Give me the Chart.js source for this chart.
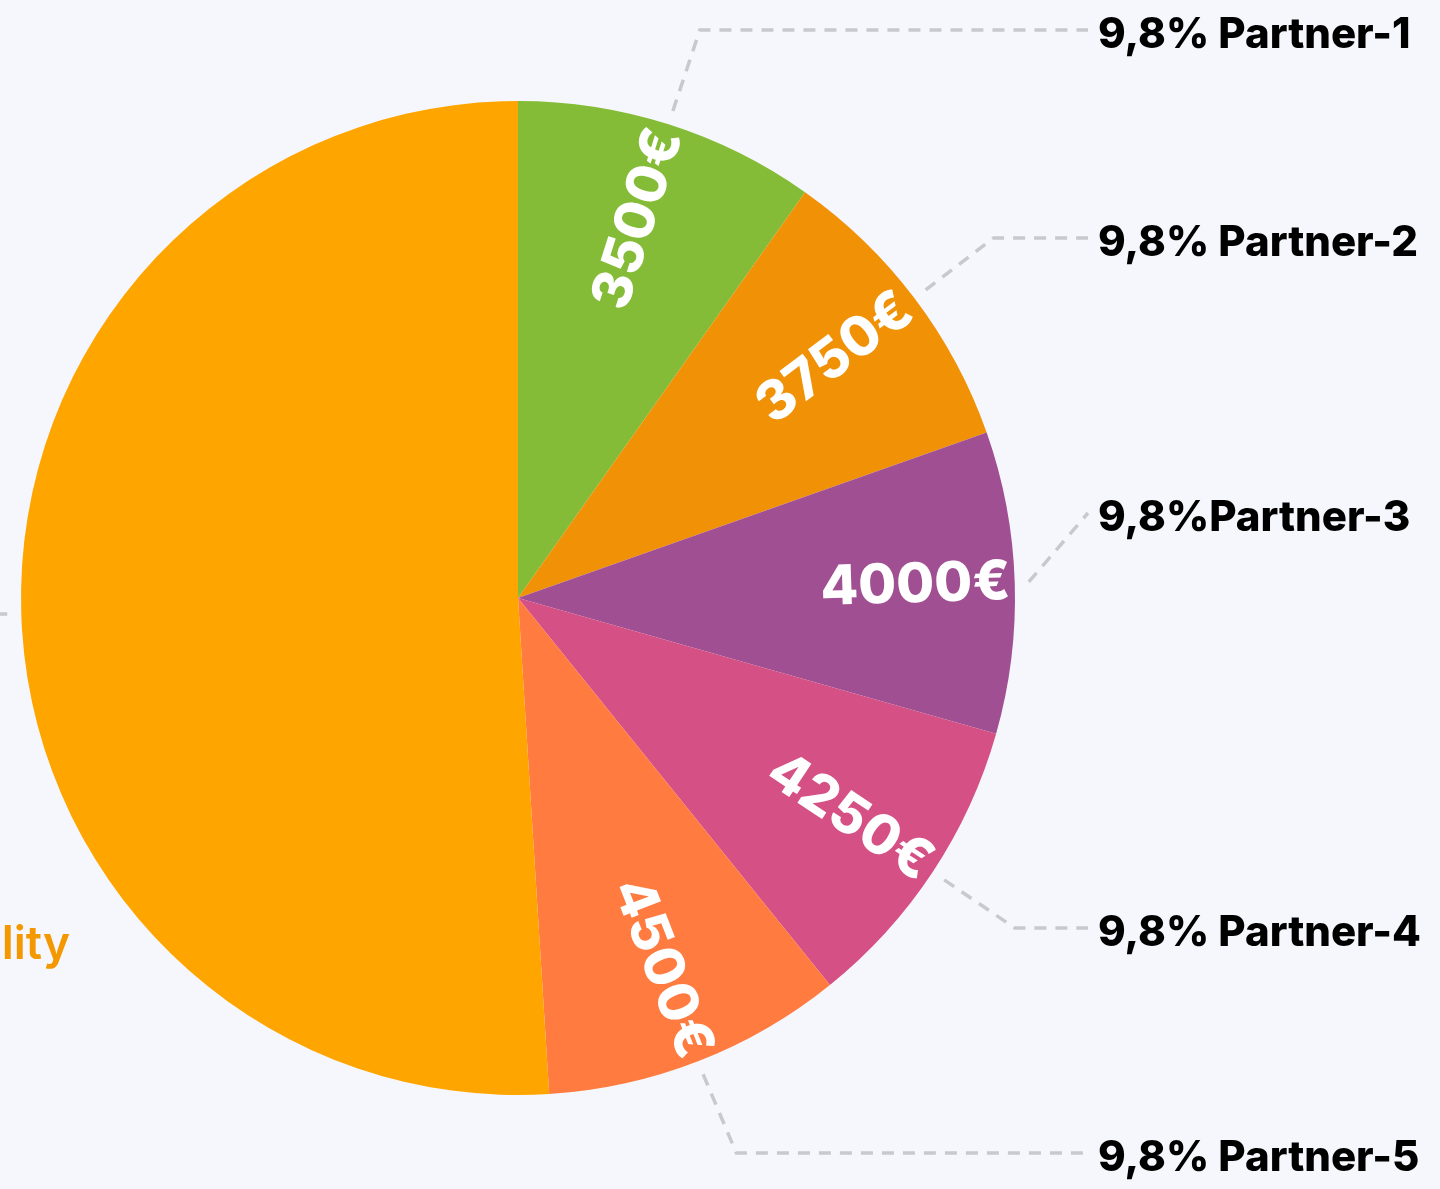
<!DOCTYPE html>
<html><head><meta charset="utf-8">
<script src="https://cdn.jsdelivr.net/npm/chart.js@4"></script>
<style>html,body{margin:0;padding:0;background:#F6F7FC;}#wrap{width:1440px;height:1189px;position:relative;}</style>
</head><body><div id="wrap"><canvas id="c"></canvas></div>
<script>
const categories = ['Partner-1','Partner-2','Partner-3','Partner-4','Partner-5','Stability'];
const shares = [9.8, 9.8, 9.8, 9.8, 9.8, 51];
const amounts = [3500, 3750, 4000, 4250, 4500, null];
const shareLabels = ['9,8% Partner-1','9,8% Partner-2','9,8%Partner-3','9,8% Partner-4','9,8% Partner-5','51% Stability'];
const colors = ['#84BC37','#F09106','#A05092','#D55085','#FF7B40','#FFA500'];

const labelPlugin = {
  id: 'pieLabels',
  afterDatasetsDraw(chart, args, opts) {
    const ctx = chart.ctx;
    const meta = chart.getDatasetMeta(0);
    meta.data.forEach((arc, i) => {
      const p = arc.getProps(['x','y','startAngle','endAngle','outerRadius'], true);
      const mid = (p.startAngle + p.endAngle) / 2;
      const R = p.outerRadius;
      if (amounts[i] != null) {
        ctx.save();
        ctx.translate(p.x + Math.cos(mid) * R * opts.valueRadius, p.y + Math.sin(mid) * R * opts.valueRadius);
        ctx.rotate(mid);
        ctx.font = opts.valueFont;
        ctx.fillStyle = '#ffffff';
        ctx.textAlign = 'center';
        ctx.textBaseline = 'middle';
        ctx.fillText(amounts[i] + '€', 0, 0);
        ctx.restore();
      }
      const sx = p.x + Math.cos(mid) * (R + opts.lineGap);
      const sy = p.y + Math.sin(mid) * (R + opts.lineGap);
      ctx.save();
      ctx.strokeStyle = '#C8C9CE';
      ctx.lineWidth = 3.5;
      ctx.setLineDash([12, 9]);
      ctx.beginPath();
      ctx.moveTo(sx, sy);
      if (i < opts.lineY.length) {
        const ly = opts.lineY[i];
        const rE = R * 1.2;
        const dy = ly - p.y;
        let ex = p.x + Math.sqrt(Math.max(rE * rE - dy * dy, 0));
        ex = Math.min(ex, opts.lineEndX);
        ctx.lineTo(ex, ly);
        ctx.lineTo(opts.lineEndX, ly);
      } else {
        ctx.lineTo(sx - 40, sy);
      }
      ctx.stroke();
      ctx.restore();
      ctx.save();
      ctx.textBaseline = 'middle';
      if (i < opts.lineY.length) {
        ctx.font = opts.labelFont;
        ctx.fillStyle = '#000000';
        ctx.textAlign = 'left';
        ctx.fillText(shareLabels[i], opts.labelX, opts.lineY[i] + 5);
      } else {
        ctx.font = opts.bigFont;
        ctx.fillStyle = '#F39800';
        ctx.textAlign = 'right';
        ctx.fillText(shareLabels[i], opts.bigX, opts.bigY);
      }
      ctx.restore();
    });
  }
};

function make() {
  new Chart(document.getElementById('c'), {
    type: 'pie',
    data: {
      labels: categories,
      datasets: [{
        data: shares,
        backgroundColor: colors,
        borderWidth: 0
      }]
    },
    options: {
      responsive: true,
      maintainAspectRatio: false,
      animation: false,
      layout: { padding: { left: 21, right: 425, top: 101, bottom: 94 } },
      plugins: {
        legend: { display: false },
        tooltip: { enabled: false },
        pieLabels: {
          valueRadius: 0.80,
          valueFont: '800 55px Inter',
          labelFont: '800 42px Inter',
          bigFont: '600 46px Inter',
          lineGap: 14,
          lineY: [30, 238, 513, 928, 1153],
          lineEndX: 1088,
          labelX: 1098,
          bigX: 70,
          bigY: 945
        }
      }
    },
    plugins: [labelPlugin]
  });
}
if (document.fonts && document.fonts.load) {
  Promise.all([document.fonts.load('800 55px Inter'), document.fonts.load('600 46px Inter')]).then(make, make);
} else { make(); }
</script>
</body></html>
